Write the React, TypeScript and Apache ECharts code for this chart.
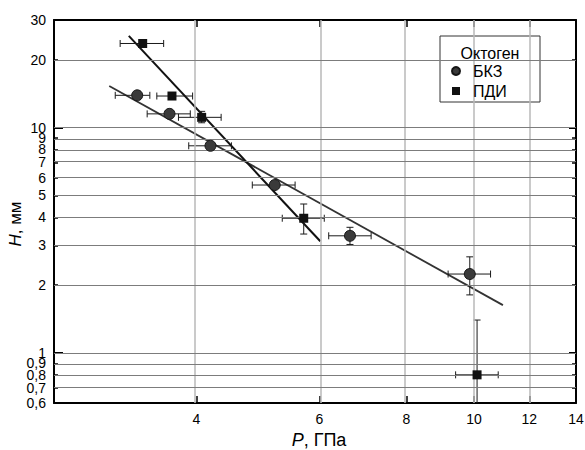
import React, { useEffect, useRef } from "react";
import * as echarts from "echarts";

// ---- Data (P in GPa, H in mm) ----
const xTickVals = [4, 6, 8, 10, 12, 14];
const xGridVals = [4, 6, 8, 10, 12];
const yLabelVals = [0.6, 0.7, 0.8, 0.9, 1, 2, 3, 4, 5, 6, 7, 8, 9, 10, 20, 30];
const yGridVals = [0.7, 0.8, 0.9, 1, 2, 3, 4, 5, 6, 7, 8, 9, 10, 20];
const yMajorVals = [1, 10];

// БКЗ
const bkzP = [3.29, 3.66, 4.19, 5.18, 6.64, 9.86];
const bkzH = [13.9, 11.5, 8.3, 5.56, 3.31, 2.24];
const bkzPlo = [3.06, 3.4, 3.9, 4.81, 6.19, 9.18];
const bkzPhi = [3.43, 3.92, 4.49, 5.54, 7.12, 10.56];
const bkzHlo = [13.9, 11.5, 8.3, 5.56, 3.03, 1.81];
const bkzHhi = [13.9, 11.5, 8.3, 5.56, 3.61, 2.67];

// ПДИ
const pdiP = [3.35, 3.69, 4.07, 5.7, 10.1];
const pdiH = [23.6, 13.8, 11.1, 3.96, 0.8];
const pdiPlo = [3.11, 3.51, 3.77, 5.31, 9.41];
const pdiPhi = [3.59, 3.95, 4.34, 6.1, 10.83];
const pdiHlo = [23.6, 13.8, 10.5, 3.37, 0.2];
const pdiHhi = [23.6, 13.8, 11.8, 4.58, 1.4];

// Fit lines
const bkzFitP = [3.0, 11.0];
const bkzFitH = [15.3, 1.63];
const pdiFitP = [3.2, 6.02];
const pdiFitH = [25.5, 3.13];

const X_MIN = 2.5;
const X_MAX = 14;
const Y_MIN = 0.6;
const Y_MAX = 30;

const FONT = "'Liberation Sans', Arial, sans-serif";
const lg = (v: number) => Math.log10(v);
const fmt = (v: number) => {
  const r = Math.round(Math.pow(10, v) * 10) / 10;
  return String(r).replace(".", ",");
};

const errRender = (params: any, api: any) => {
  const x = api.value(0);
  const y = api.value(1);
  const xlo = api.value(2);
  const xhi = api.value(3);
  const ylo = api.value(4);
  const yhi = api.value(5);
  const cs = params.coordSys;
  const style = { stroke: "#1a1a1a", lineWidth: 1 };
  const cap = 3.5;
  const children: any[] = [];
  if (xlo !== xhi) {
    const pl = api.coord([xlo, y]);
    const ph = api.coord([xhi, y]);
    children.push({ type: "line", shape: { x1: pl[0], y1: pl[1], x2: ph[0], y2: ph[1] }, style });
    children.push({ type: "line", shape: { x1: pl[0], y1: pl[1] - cap, x2: pl[0], y2: pl[1] + cap }, style });
    children.push({ type: "line", shape: { x1: ph[0], y1: ph[1] - cap, x2: ph[0], y2: ph[1] + cap }, style });
  }
  if (ylo !== yhi) {
    const yl = api.coord([x, ylo]);
    const yh = api.coord([x, yhi]);
    const bottom = cs.y + cs.height;
    const clamped = yl[1] > bottom;
    const ylY = clamped ? bottom : yl[1];
    children.push({ type: "line", shape: { x1: yl[0], y1: ylY, x2: yh[0], y2: yh[1] }, style });
    children.push({ type: "line", shape: { x1: yh[0] - cap, y1: yh[1], x2: yh[0] + cap, y2: yh[1] }, style });
    if (!clamped) {
      children.push({ type: "line", shape: { x1: yl[0] - cap, y1: yl[1], x2: yl[0] + cap, y2: yl[1] }, style });
    }
  }
  return { type: "group", children };
};

const axisLineStyle = { color: "#000", width: 2 };

export default function App() {
  const ref = useRef<HTMLDivElement>(null);
  useEffect(() => {
    document.body.style.margin = "0";
    if (!ref.current) return;
    const chart = echarts.init(ref.current, null, { renderer: "svg" });

    const bkzErr = bkzP.map((p, i) => [lg(p), lg(bkzH[i]), lg(bkzPlo[i]), lg(bkzPhi[i]), lg(bkzHlo[i]), lg(bkzHhi[i])]);
    const pdiErr = pdiP.map((p, i) => [lg(p), lg(pdiH[i]), lg(pdiPlo[i]), lg(pdiPhi[i]), lg(pdiHlo[i]), lg(pdiHhi[i])]);

    const option: any = {
      animation: false,
      textStyle: { fontFamily: FONT },
      grid: { left: 54, top: 20, right: 9, bottom: 47, containLabel: false, outerBoundsMode: "none" },
      legend: {
        orient: "vertical",
        left: 451,
        top: 63,
        padding: 0,
        itemGap: 4,
        itemWidth: 24,
        itemHeight: 8,
        symbolKeepAspect: true,
        textStyle: { fontSize: 16, color: "#000", fontFamily: FONT },
        data: [
          { name: "БКЗ", icon: "circle" },
          { name: "ПДИ", icon: "path://M0 0H10V10H0Z" },
        ],
        selectedMode: false,
        z: 6,
      },
      graphic: [
        {
          type: "rect",
          shape: { x: 440, y: 36, width: 100, height: 66 },
          style: { fill: "#fff", stroke: "#333", lineWidth: 1 },
          z: 4,
        },
        {
          type: "text",
          x: 490,
          y: 53,
          style: {
            text: "Октоген",
            fontSize: 16,
            fontFamily: FONT,
            fill: "#000",
            align: "center",
            verticalAlign: "middle",
          },
          z: 6,
        },
        {
          type: "text",
          x: 15,
          y: 224,
          rotation: Math.PI / 2,
          style: {
            text: "{i|H}, мм",
            fontSize: 17,
            fontFamily: FONT,
            fill: "#000",
            align: "center",
            verticalAlign: "middle",
            rich: { i: { fontStyle: "italic", fontSize: 17, fontFamily: FONT, fill: "#000" } },
          },
          z: 6,
        },
      ],
      xAxis: [
        {
          type: "value",
          position: "bottom",
          min: lg(X_MIN),
          max: lg(X_MAX),
          axisLine: { show: true, onZero: false, lineStyle: axisLineStyle },
          axisTick: { show: true, inside: true, length: 7, customValues: xGridVals.map(lg), lineStyle: { color: "#000", width: 1.5 } },
          axisLabel: { customValues: xTickVals.map(lg), formatter: fmt, color: "#000", fontSize: 14, margin: 9, fontFamily: FONT },
          splitLine: { show: false },
          name: "{i|P}, ГПа",
          nameLocation: "middle",
          nameGap: 22,
          nameTextStyle: { fontSize: 18, color: "#000", fontFamily: FONT, padding: [0, 0, 0, 8], rich: { i: { fontStyle: "italic", fontSize: 18, fontFamily: FONT } } },
        },
        {
          type: "value",
          position: "top",
          min: lg(X_MIN),
          max: lg(X_MAX),
          axisLine: { show: true, onZero: false, lineStyle: axisLineStyle },
          axisTick: { show: true, inside: true, length: 7, customValues: xGridVals.map(lg), lineStyle: { color: "#000", width: 1.5 } },
          axisLabel: { show: false },
          splitLine: { show: false },
        },
      ],
      yAxis: [
        {
          type: "value",
          position: "left",
          min: lg(Y_MIN),
          max: lg(Y_MAX),
          axisLine: { show: true, onZero: false, lineStyle: axisLineStyle },
          axisTick: { show: true, inside: true, length: 4, customValues: yGridVals.map(lg), lineStyle: { color: "#000", width: 1.5 } },
          axisLabel: { customValues: yLabelVals.map(lg), formatter: fmt, color: "#000", fontSize: 14, margin: 8, fontFamily: FONT, showMinLabel: true, showMaxLabel: true },
          splitLine: { show: false },
        },
        {
          type: "value",
          position: "right",
          min: lg(Y_MIN),
          max: lg(Y_MAX),
          axisLine: { show: true, onZero: false, lineStyle: axisLineStyle },
          axisTick: { show: true, inside: true, length: 4, customValues: yGridVals.map(lg), lineStyle: { color: "#000", width: 1.5 } },
          axisLabel: { show: false },
          splitLine: { show: false },
        },
        {
          type: "value",
          position: "left",
          min: lg(Y_MIN),
          max: lg(Y_MAX),
          axisLine: { show: false },
          axisTick: { show: true, inside: true, length: 9, customValues: yMajorVals.map(lg), lineStyle: { color: "#000", width: 2 } },
          axisLabel: { show: false },
          splitLine: { show: false },
        },
        {
          type: "value",
          position: "right",
          min: lg(Y_MIN),
          max: lg(Y_MAX),
          axisLine: { show: false },
          axisTick: { show: true, inside: true, length: 7, customValues: yMajorVals.map(lg), lineStyle: { color: "#000", width: 2 } },
          axisLabel: { show: false },
          splitLine: { show: false },
        },
      ],
      series: [
        {
          name: "grid",
          type: "line",
          data: [],
          silent: true,
          z: 1,
          markLine: {
            silent: true,
            symbol: ["none", "none"],
            label: { show: false },
            animation: false,
            data: [
              ...xGridVals.map((v) => ({ xAxis: lg(v), lineStyle: { color: "#b8b8b8", width: 1.5, type: "solid" } })),
              ...yGridVals.map((v) => ({ yAxis: lg(v), lineStyle: { color: "#7c7c7c", width: 1, type: "solid" } })),
            ],
          },
        },
        {
          name: "БКЗ fit",
          type: "line",
          data: bkzFitP.map((p, i) => [lg(p), lg(bkzFitH[i])]),
          showSymbol: false,
          symbol: "none",
          lineStyle: { color: "#333", width: 1.8 },
          z: 3,
        },
        {
          name: "ПДИ fit",
          type: "line",
          data: pdiFitP.map((p, i) => [lg(p), lg(pdiFitH[i])]),
          showSymbol: false,
          symbol: "none",
          lineStyle: { color: "#111", width: 2 },
          z: 3,
        },
        {
          name: "БКЗ err",
          type: "custom",
          renderItem: errRender,
          data: bkzErr,
          z: 4,
        },
        {
          name: "ПДИ err",
          type: "custom",
          renderItem: errRender,
          data: pdiErr,
          z: 4,
        },
        {
          name: "БКЗ",
          type: "scatter",
          data: bkzP.map((p, i) => [lg(p), lg(bkzH[i])]),
          symbol: "circle",
          symbolSize: 11,
          itemStyle: { color: "#3a3a3a", borderColor: "#151515", borderWidth: 1, opacity: 1 },
          z: 5,
        },
        {
          name: "ПДИ",
          type: "scatter",
          data: pdiP.map((p, i) => [lg(p), lg(pdiH[i])]),
          symbol: "rect",
          symbolSize: 9,
          itemStyle: { color: "#111", opacity: 1 },
          z: 5,
        },
      ],
    };
    chart.setOption(option);
    return () => chart.dispose();
  }, []);
  return <div ref={ref} style={{ width: 585, height: 450 }} />;
}
